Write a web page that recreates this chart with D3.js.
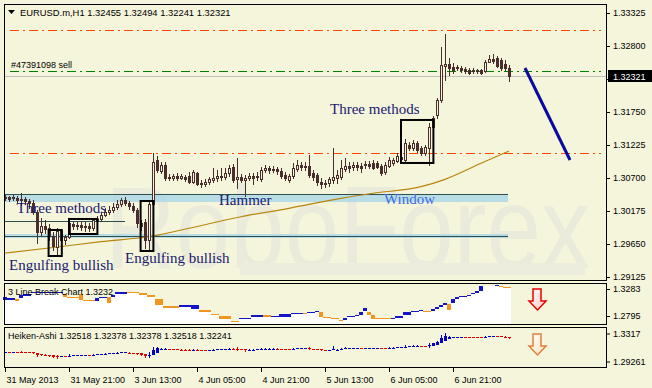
<!DOCTYPE html>
<html>
<head>
<meta charset="utf-8">
<script src="https://cdn.jsdelivr.net/npm/d3@7/dist/d3.min.js"></script>
<style>
  body { margin: 0; background: #f5f5dc; }
  svg { display: block; }
  .lbl { font-family: "Liberation Sans", Arial, sans-serif; font-size: 9px; fill: #000; }
  .note { font-family: "Liberation Serif", "Times New Roman", serif; font-size: 15px; }
</style>
</head>
<body>
<svg id="chart" width="652" height="388"></svg>
<script>
// EURUSD.m H1, first bar 31 May 2013 05:00
const opens = [1.30398,1.30398,1.30382,1.30382,1.30350,1.30366,1.30334,1.30302,1.30159,1.29841,
  1.29936,1.29905,1.29777,1.29602,1.29857,1.29714,1.29761,1.29968,1.29936,1.29952,
  1.29921,1.29936,1.29905,1.30016,1.30048,1.30111,1.30159,1.30191,1.30239,1.30286,
  1.30350,1.30302,1.30255,1.30191,1.29984,1.30000,1.29714,1.30286,1.30986,1.30811,
  1.30907,1.30716,1.30700,1.30732,1.30700,1.30716,1.30732,1.30636,1.30780,1.30621,
  1.30605,1.30636,1.30668,1.30700,1.30732,1.30716,1.30780,1.30875,1.30684,1.30716,
  1.30668,1.30700,1.30732,1.30716,1.30684,1.30827,1.30859,1.30827,1.30843,1.30811,
  1.30748,1.30668,1.30732,1.30843,1.30907,1.30875,1.30891,1.30780,1.30748,1.30636,
  1.30621,1.30621,1.30668,1.30700,1.30716,1.30843,1.30891,1.30875,1.30907,1.30891,
  1.30907,1.30923,1.30939,1.30939,1.30891,1.30795,1.30891,1.30939,1.30971,1.31034,
  1.30986,1.31225,1.31177,1.31257,1.31177,1.31098,1.31177,1.31511,1.31702,1.31941,
  1.32482,1.32514,1.32466,1.32450,1.32450,1.32434,1.32418,1.32402,1.32418,1.32418,
  1.32402,1.32545,1.32593,1.32609,1.32577,1.32514,1.32455];
const highs = [1.30430,1.30414,1.30430,1.30414,1.30461,1.30398,1.30366,1.30350,1.30191,1.30064,
  1.30032,1.29968,1.29841,1.29905,1.29889,1.29793,1.30032,1.30016,1.30000,1.30016,
  1.30000,1.29984,1.30064,1.30096,1.30159,1.30223,1.30255,1.30302,1.30350,1.30382,
  1.30398,1.30334,1.30302,1.30223,1.30032,1.30048,1.30334,1.31098,1.31050,1.30955,
  1.30955,1.30764,1.30764,1.30780,1.30764,1.30748,1.30795,1.30827,1.30795,1.30668,
  1.30684,1.30716,1.30859,1.30827,1.30859,1.30859,1.30907,1.30923,1.31018,1.30764,
  1.30748,1.30780,1.30780,1.30795,1.30875,1.30907,1.30891,1.30891,1.30875,1.30859,
  1.30795,1.30764,1.30939,1.30986,1.30955,1.30955,1.31066,1.30827,1.30780,1.30700,
  1.30668,1.30716,1.31177,1.30827,1.30986,1.31018,1.30955,1.30955,1.30955,1.30939,
  1.30971,1.30971,1.30986,1.30971,1.30923,1.30955,1.31034,1.31018,1.31098,1.31082,
  1.31321,1.31273,1.31305,1.31289,1.31209,1.31225,1.31575,1.31686,1.31973,1.32784,
  1.32991,1.32609,1.32530,1.32498,1.32482,1.32466,1.32450,1.32450,1.32434,1.32434,
  1.32577,1.32657,1.32673,1.32641,1.32609,1.32577,1.32494];
const lows = [1.30350,1.30334,1.30350,1.30302,1.30271,1.30286,1.30223,1.30127,1.29666,1.29777,
  1.29825,1.29714,1.29555,1.29459,1.29666,1.29650,1.29746,1.29889,1.29889,1.29873,
  1.29857,1.29857,1.29873,1.29984,1.30016,1.30096,1.30127,1.30159,1.30207,1.30255,
  1.30271,1.30207,1.30159,1.29921,1.29873,1.29586,1.29555,1.30255,1.30795,1.30780,
  1.30668,1.30668,1.30668,1.30668,1.30684,1.30652,1.30621,1.30621,1.30589,1.30557,
  1.30573,1.30605,1.30636,1.30652,1.30668,1.30684,1.30732,1.30636,1.30541,1.30636,
  1.30414,1.30668,1.30605,1.30668,1.30652,1.30795,1.30780,1.30795,1.30764,1.30700,
  1.30668,1.30636,1.30700,1.30811,1.30827,1.30827,1.30716,1.30668,1.30589,1.30541,
  1.30557,1.30573,1.30621,1.30621,1.30684,1.30811,1.30795,1.30827,1.30827,1.30795,
  1.30859,1.30859,1.30843,1.30859,1.30748,1.30764,1.30875,1.30907,1.30955,1.30955,
  1.30955,1.31146,1.31146,1.31114,1.31066,1.31066,1.30907,1.31480,1.31655,1.31909,
  1.32259,1.32339,1.32371,1.32418,1.32386,1.32371,1.32355,1.32371,1.32371,1.32355,
  1.32386,1.32545,1.32530,1.32466,1.32418,1.32418,1.32241];
const closes = [1.30382,1.30366,1.30398,1.30350,1.30366,1.30334,1.30302,1.30159,1.29841,1.29936,
  1.29889,1.29777,1.29618,1.29857,1.29714,1.29761,1.29984,1.29936,1.29952,1.29921,
  1.29936,1.29905,1.30032,1.30048,1.30111,1.30159,1.30191,1.30239,1.30286,1.30350,
  1.30302,1.30255,1.30191,1.29984,1.29936,1.29714,1.30286,1.30955,1.30827,1.30907,
  1.30700,1.30700,1.30732,1.30700,1.30732,1.30684,1.30636,1.30795,1.30605,1.30605,
  1.30636,1.30684,1.30700,1.30732,1.30716,1.30780,1.30859,1.30668,1.30716,1.30668,
  1.30700,1.30732,1.30700,1.30732,1.30827,1.30859,1.30827,1.30843,1.30811,1.30732,
  1.30700,1.30732,1.30859,1.30907,1.30875,1.30891,1.30748,1.30716,1.30636,1.30605,
  1.30605,1.30684,1.30716,1.30748,1.30859,1.30891,1.30859,1.30907,1.30875,1.30859,
  1.30923,1.30891,1.30859,1.30875,1.30780,1.30907,1.30986,1.30986,1.31050,1.31002,
  1.31257,1.31177,1.31257,1.31146,1.31098,1.31193,1.31511,1.31655,1.31941,1.32498,
  1.32514,1.32450,1.32418,1.32466,1.32418,1.32402,1.32371,1.32418,1.32402,1.32371,
  1.32545,1.32593,1.32561,1.32482,1.32450,1.32450,1.32321];

// moving average read at a few bars
const maBars = [0, 11, 24, 37, 46, 59, 71, 84, 92, 104, 110, 119, 126];
const maValues = [1.29507, 1.29586, 1.29687, 1.29777, 1.29900, 1.30084, 1.30218, 1.30377, 1.30457, 1.30562, 1.30679, 1.30934, 1.31130];

// 3 line break bricks: from bar, to bar, top, bottom, direction
const lbFrom = [0,1,3,4,5,7,15,16,19,20,23,24,26,27,28,31,34,36,38,40,44,47,49,52,54,57,59,62,65,67,69,72,75,76,78,79,80,82,84,85,86,88,89,90,91,92,93,97,98,100,102,104,105,107,108,109,110,111,112,113,114,116,117,118,119,120,123,124,125];
const lbTo = [0,2,3,4,6,14,15,18,19,22,23,25,26,27,30,33,35,37,39,43,46,48,51,53,56,58,61,64,66,68,71,74,75,77,78,79,81,83,84,85,87,88,89,90,91,92,96,97,99,101,103,104,106,107,108,109,110,111,112,113,115,116,117,118,119,122,123,124,126];
const lbHigh = [1.31384,1.31113,1.31077,1.31746,1.31981,1.32288,1.31981,1.31384,1.31981,1.30932,1.31203,1.31294,1.31384,1.31746,1.32288,1.32288,1.32017,1.31800,1.31077,1.29703,1.29884,1.29884,1.29089,1.28366,1.27950,1.27101,1.27589,1.28077,1.28077,1.27896,1.28311,1.28492,1.28492,1.28673,1.28854,1.28673,1.27823,1.27589,1.27227,1.27589,1.28004,1.28221,1.28673,1.29396,1.28673,1.28185,1.27589,1.27643,1.27950,1.28673,1.28854,1.28980,1.28944,1.29269,1.29631,1.29992,1.30354,1.30119,1.31077,1.31330,1.31511,1.31800,1.32107,1.32469,1.33318,1.33318,1.33499,1.33318,1.33191];
const lbLow = [1.30842,1.30932,1.30661,1.31258,1.31565,1.32107,1.31384,1.31203,1.30842,1.30751,1.30715,1.31113,1.30354,1.31294,1.31926,1.32107,1.31800,1.31384,1.29884,1.29450,1.29577,1.29269,1.28673,1.28077,1.27354,1.26866,1.27354,1.27823,1.27715,1.27715,1.27823,1.28311,1.28311,1.28492,1.28673,1.27823,1.27643,1.27354,1.27046,1.27281,1.27715,1.28040,1.28185,1.28799,1.28185,1.27462,1.27462,1.27462,1.27643,1.28077,1.28673,1.28799,1.28799,1.28799,1.29269,1.29631,1.29992,1.29034,1.30245,1.31077,1.31330,1.31565,1.31872,1.32107,1.32469,1.33318,1.33318,1.33191,1.33065];
const lbDir = [1,1,-1,1,1,1,-1,-1,-1,-1,1,1,-1,1,1,-1,-1,-1,-1,-1,1,1,-1,-1,-1,-1,1,1,-1,1,1,1,-1,1,1,-1,-1,-1,-1,1,1,1,1,1,-1,-1,-1,1,1,1,1,1,-1,1,1,1,1,-1,1,1,1,1,1,1,1,0,1,-1,-1];

const timeTickBars = [0, 16, 32, 48, 64, 80, 96, 112];
const timeLabels = ["31 May 2013", "31 May 21:00", "3 Jun 13:00", "4 Jun 05:00", "4 Jun 21:00", "5 Jun 13:00", "6 Jun 05:00", "6 Jun 21:00"];
const priceTicks = [1.33325, 1.32800, 1.32275, 1.31750, 1.31225, 1.30700, 1.30175, 1.29650, 1.29125];
const lbTicks = [1.3283, 1.2795];
const haTicks = [1.3317, 1.29261];
const haTickLabels = ["1.3317", "1.29261"];

// horizontal levels
const bid = 1.32321;
const sellLevel = 1.32402;
const redLevels = [1.33055, 1.31098];
// support/resistance bands: top, bottom, edge line
const bandTop = [1.30446, 1.29809];
const bandBottom = [1.30318, 1.29746];
const bandLine = [1.30446, 1.29782];
const shortLine = 1.30011;

// pattern boxes
const boxFrom = [10.9, 16, 33.9, 99];
const boxTo = [14.2, 23.1, 37.1, 107.1];
const boxHigh = [1.29873, 1.30048, 1.30334, 1.31623];
const boxLow = [1.29459, 1.29809, 1.29539, 1.30939];

// pattern notes
const noteText = ["Three methods", "Three methods", "Engulfing bullish", "Engulfing bullish", "Hammer", "Window"];
const noteBar = [81.25, 2.9, 1, 30, 53.5, 94.75];
const notePrice = [1.31718, 1.30143, 1.29236, 1.29348, 1.30271, 1.30286];
const noteColor = ["#191970", "#191970", "#191970", "#191970", "#191970", "#4169e1"];

// forecast line
const trendBars = [130, 141.25];
const trendValues = [1.32450, 1.30986];

const bg = "#f5f5dc";
const candleColor = "#4a2e2e";
const svg = d3.select("#chart");

const x = d3.scaleLinear().domain([0, 126]).range([5, 509]);
const y = d3.scaleLinear().domain([1.29125, 1.33325]).range([277, 13]);
const y2 = d3.scaleLinear().domain([1.2795, 1.3283]).range([316, 289]);
const y3 = d3.scaleLinear().domain([1.29261, 1.3317]).range([360, 332]);

const L = 4, R = 607;
const main = {top: 4, bottom: 281}, p2 = {top: 283, bottom: 325}, p3 = {top: 327, bottom: 368};

svg.append("rect").attr("width", 652).attr("height", 388).attr("fill", bg);

// watermark
svg.append("text").attr("x", 105).attr("y", 268)
  .attr("font-family", "Liberation Sans, Arial, sans-serif").attr("font-size", 116)
  .attr("textLength", 485).attr("lengthAdjust", "spacingAndGlyphs")
  .attr("fill", "#eaebda").text("RoboForex");
svg.append("rect").attr("x", 240).attr("y", 263).attr("width", 345).attr("height", 12).attr("fill", "#eceddc");

const gm = svg.append("g");

// bands
bandTop.forEach((t, k) => {
  gm.append("rect").attr("x", L).attr("y", y(t)).attr("width", x(125.75) - L)
    .attr("height", y(bandBottom[k]) - y(t)).attr("fill", "#add8e6").attr("opacity", 0.85);
  gm.append("line").attr("x1", L).attr("x2", x(125.75))
    .attr("y1", Math.round(y(bandLine[k])) + 0.5).attr("y2", Math.round(y(bandLine[k])) + 0.5)
    .attr("stroke", "#2f4f4f").attr("stroke-width", 1);
});
gm.append("line").attr("x1", x(0)).attr("x2", x(30))
  .attr("y1", Math.round(y(shortLine)) + 0.5).attr("y2", Math.round(y(shortLine)) + 0.5)
  .attr("stroke", "#2f4f4f");

// moving average
gm.append("path").datum(maBars.map((b, k) => [b, maValues[k]]))
  .attr("d", d3.line().x(d => x(d[0])).y(d => y(d[1])).curve(d3.curveMonotoneX))
  .attr("fill", "none").attr("stroke", "#b8860b").attr("stroke-width", 1.2);

// level lines
redLevels.forEach(v => {
  gm.append("line").attr("x1", L + 6).attr("x2", R - 6)
    .attr("y1", Math.round(y(v)) + 0.5).attr("y2", Math.round(y(v)) + 0.5)
    .attr("stroke", "#ff4500").attr("stroke-dasharray", "9,4,2,4");
});
gm.append("line").attr("x1", L + 6).attr("x2", R - 6)
  .attr("y1", Math.round(y(sellLevel)) + 0.5).attr("y2", Math.round(y(sellLevel)) + 0.5)
  .attr("stroke", "#008000").attr("stroke-dasharray", "9,4,2,4");
gm.append("line").attr("x1", L).attr("x2", R)
  .attr("y1", Math.round(y(bid)) + 0.5).attr("y2", Math.round(y(bid)) + 0.5)
  .attr("stroke", "#c0c0c0");
gm.append("text").attr("class", "lbl").attr("x", 11).attr("y", Math.round(y(sellLevel)) - 3)
  .text("#47391098 sell");

// candles
const bars = opens.map((o, i) => ({i, o, h: highs[i], l: lows[i], c: closes[i]}));
const cg = gm.selectAll("g.candle").data(bars).enter().append("g").attr("class", "candle");
cg.append("rect")
  .attr("x", d => Math.round(x(d.i)))
  .attr("y", d => Math.round(y(d.h)))
  .attr("width", 1)
  .attr("height", d => Math.max(1, Math.round(y(d.l)) - Math.round(y(d.h)) + 1))
  .attr("fill", candleColor);
cg.append("rect")
  .attr("x", d => Math.round(x(d.i)) - 1)
  .attr("y", d => Math.round(y(Math.max(d.o, d.c))))
  .attr("width", 3)
  .attr("height", d => Math.round(y(Math.min(d.o, d.c))) - Math.round(y(Math.max(d.o, d.c))) + 1)
  .attr("fill", candleColor);
cg.filter(d => d.c > d.o && Math.round(y(d.o)) - Math.round(y(d.c)) >= 2).append("rect")
  .attr("x", d => Math.round(x(d.i)))
  .attr("y", d => Math.round(y(d.c)) + 1)
  .attr("width", 1)
  .attr("height", d => Math.round(y(d.o)) - Math.round(y(d.c)) - 1)
  .attr("fill", bg);

// pattern boxes
boxFrom.forEach((b, k) => {
  gm.append("rect").attr("x", x(b)).attr("y", y(boxHigh[k]))
    .attr("width", x(boxTo[k]) - x(b)).attr("height", y(boxLow[k]) - y(boxHigh[k]))
    .attr("fill", "none").attr("stroke", "#000").attr("stroke-width", 2);
});

// notes
noteText.forEach((t, k) => {
  gm.append("text").attr("class", "note").attr("x", x(noteBar[k])).attr("y", y(notePrice[k]))
    .attr("fill", noteColor[k]).text(t);
});

// forecast line
gm.append("line")
  .attr("x1", x(trendBars[0])).attr("y1", y(trendValues[0]))
  .attr("x2", x(trendBars[1])).attr("y2", y(trendValues[1]))
  .attr("stroke", "#0a0a9e").attr("stroke-width", 3);

// header
svg.append("path").attr("d", "M8,10 L15,10 L11.5,14 Z").attr("fill", "#000");
svg.append("text").attr("class", "lbl").attr("x", 20).attr("y", 16).style("font-size", "9.4px")
  .text("EURUSD.m,H1  1.32455 1.32494 1.32241 1.32321");

// 3 line break panel
const g2 = svg.append("g");
lbFrom.forEach((f, k) => {
  const x0 = Math.round(x(f)) - 2, x1 = Math.round(x(lbTo[k])) + 2;
  const top = Math.round(y2(lbHigh[k]));
  g2.append("rect").attr("x", x0).attr("y", top).attr("width", x1 - x0)
    .attr("height", p2.bottom - top).attr("fill", "#fff");
  if (lbDir[k] !== 0) {
    g2.append("rect").attr("x", x0).attr("y", top).attr("width", x1 - x0)
      .attr("height", Math.max(1, Math.round(y2(lbLow[k])) - top))
      .attr("fill", lbDir[k] > 0 ? "#1414c8" : "#f0961e");
  }
});
g2.append("text").attr("class", "lbl").attr("x", 8).attr("y", 295).text("3 Line Break Chart 1.3232");

// heiken-ashi panel, built from the candles above
const ha = [];
bars.forEach((d, i) => {
  const c = (d.o + d.h + d.l + d.c) / 4;
  const o = i === 0 ? (d.o + d.c) / 2 : (ha[i - 1].o + ha[i - 1].c) / 2;
  ha.push({i, o, c, h: Math.max(d.h, o, c), l: Math.min(d.l, o, c)});
});
const g3 = svg.append("g");
const hg = g3.selectAll("g").data(ha).enter().append("g");
hg.append("rect")
  .attr("x", d => Math.round(x(d.i)))
  .attr("y", d => Math.round(y3(d.h)))
  .attr("width", 1)
  .attr("height", d => Math.max(1, Math.round(y3(d.l)) - Math.round(y3(d.h))))
  .attr("fill", d => d.c >= d.o ? "#0000c8" : "#e00000");
hg.append("rect")
  .attr("x", d => Math.round(x(d.i)) - 1)
  .attr("y", d => Math.round(y3(Math.max(d.o, d.c))))
  .attr("width", 3)
  .attr("height", d => Math.max(1, Math.round(y3(Math.min(d.o, d.c))) - Math.round(y3(Math.max(d.o, d.c)))))
  .attr("fill", d => d.c >= d.o ? "#0000c8" : "#e00000");
g3.append("text").attr("class", "lbl").attr("x", 8).attr("y", 339)
  .text("Heiken-Ashi 1.32518 1.32378 1.32378 1.32518 1.32241");

// signal arrows
const arrowPts = [[4, 0], [12, 0], [12, 12], [17, 12], [8.5, 21], [0, 12], [4, 12]];
const defs = svg.append("defs");
[["gr", "#ffc8c8"], ["go", "#ffe0c0"]].forEach(([id, c]) => {
  const lg = defs.append("linearGradient").attr("id", id).attr("x1", 0).attr("y1", 0).attr("x2", 1).attr("y2", 1);
  lg.append("stop").attr("offset", 0).attr("stop-color", "#fff");
  lg.append("stop").attr("offset", 1).attr("stop-color", c);
});
[[p2.top + 6, "#e80000", "gr"], [p3.top + 7, "#e0803c", "go"]].forEach(([ty, stroke, fill]) => {
  svg.append("polygon").attr("transform", `translate(529,${ty})`)
    .attr("points", arrowPts.map(p => p.join(",")).join(" "))
    .attr("fill", `url(#${fill})`).attr("stroke", stroke).attr("stroke-width", 1.5);
});

// frames
[main, p2, p3].forEach(p => {
  svg.append("rect").attr("x", L + 0.5).attr("y", p.top + 0.5)
    .attr("width", R - L - 1).attr("height", p.bottom - p.top - 1)
    .attr("fill", "none").attr("stroke", "#000");
});

// price axes
const ax = svg.append("g").attr("transform", `translate(${R},0)`)
  .call(d3.axisRight(y).tickValues(priceTicks).tickSize(3).tickPadding(3).tickFormat(d3.format(".5f")));
const ax2 = svg.append("g").attr("transform", `translate(${R},0)`)
  .call(d3.axisRight(y2).tickValues(lbTicks).tickSize(3).tickPadding(3).tickFormat(d3.format(".4f")));
const ax3 = svg.append("g").attr("transform", `translate(${R},0)`)
  .call(d3.axisRight(y3).tickValues(haTicks).tickSize(3).tickPadding(3).tickFormat((d, k) => haTickLabels[k]));
ax3.selectAll(".tick").attr("transform", d => `translate(0,${y3(d) + 2})`);
[ax, ax2, ax3].forEach(a => {
  a.select(".domain").remove();
  a.selectAll("text").attr("class", "lbl").attr("font-family", null).attr("font-size", null);
  a.selectAll("line").attr("stroke", "#000");
});

// bid marker
const by = Math.round(y(bid));
svg.append("rect").attr("x", R + 1).attr("y", by - 6).attr("width", 652 - R - 1).attr("height", 12).attr("fill", "#000");
svg.append("text").attr("class", "lbl").attr("x", R + 6).attr("y", by + 3.5).style("fill", "#fff").text(d3.format(".5f")(bid));

// time axis
const tx = svg.append("g");
timeTickBars.forEach((b, k) => {
  const xx = Math.round(x(b)) + 0.5;
  tx.append("line").attr("x1", xx).attr("x2", xx).attr("y1", p3.bottom).attr("y2", p3.bottom + 4).attr("stroke", "#000");
  tx.append("text").attr("class", "lbl").attr("x", xx + 1).attr("y", 383).text(timeLabels[k]);
});
</script>
</body>
</html>
